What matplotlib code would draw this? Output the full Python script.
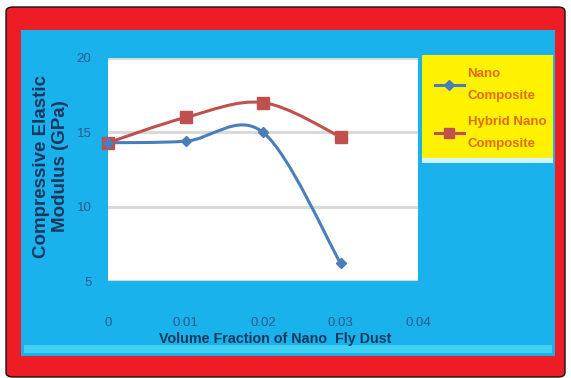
import matplotlib
matplotlib.use("Agg")
import matplotlib.pyplot as plt
from matplotlib.patches import Rectangle, FancyBboxPatch, PathPatch
from matplotlib.path import Path
from matplotlib.lines import Line2D

# ---- data ----
volume_fraction = [0.0, 0.01, 0.02, 0.03]
nano_composite = [14.3, 14.4, 15.0, 6.2]
hybrid_nano_composite = [14.3, 16.0, 17.0, 14.7]
series_labels = ["Nano\nComposite", "Hybrid Nano\nComposite"]
x_ticks = [0, 0.01, 0.02, 0.03, 0.04]
x_tick_labels = ["0", "0.01", "0.02", "0.03", "0.04"]
y_ticks = [5, 10, 15, 20]
y_tick_labels = ["5", "10", "15", "20"]

W, H = 571, 378
fig = plt.figure(figsize=(W / 100, H / 100), dpi=100)
fig.patch.set_facecolor("white")

FONT = "Liberation Sans"

def px(x0, y0, x1, y1):
    return (x0 / W, 1 - y1 / H, (x1 - x0) / W, (y1 - y0) / H)

# red outer frame with thin black border
l, b, w, h = px(6, 7, 565, 377)
fig.patches.append(FancyBboxPatch((l, b), w, h, boxstyle="round,pad=0,rounding_size=0.012",
                                  transform=fig.transFigure, facecolor="#EE1C24",
                                  edgecolor="#111111", linewidth=1.0, zorder=-3))
# blue inner panel
l, b, w, h = px(21, 30, 555, 356)
fig.patches.append(Rectangle((l, b), w, h, transform=fig.transFigure,
                             facecolor="#19B2EC", edgecolor="none", zorder=-2))
# lighter strip near bottom
l, b, w, h = px(24, 345, 552, 353)
fig.patches.append(Rectangle((l, b), w, h, transform=fig.transFigure,
                             facecolor="#3FD0F2", edgecolor="none", zorder=-1))
# yellow legend box
l, b, w, h = px(422, 55, 553, 158)
fig.patches.append(Rectangle((l, b), w, h, transform=fig.transFigure,
                             facecolor="#FFF200", edgecolor="none", zorder=-1))
l, b, w, h = px(422, 158, 553, 163)
fig.patches.append(Rectangle((l, b), w, h, transform=fig.transFigure,
                             facecolor="#CFF4FB", edgecolor="none", zorder=-1))

ax = fig.add_axes(px(108, 58, 418, 281))
ax.set_zorder(2)
ax.set_facecolor("white")
ax.set_xlim(0, 0.04)
ax.set_ylim(5, 20)
for s in ax.spines.values():
    s.set_visible(False)
ax.set_yticks(y_ticks)
ax.set_yticklabels(y_tick_labels)
ax.set_xticks(x_ticks)
ax.set_xticklabels(x_tick_labels)
ax.tick_params(axis="both", length=0, labelsize=9.5, labelcolor="#2A5A8E")
ax.tick_params(axis="x", pad=26)
ax.tick_params(axis="y", pad=12)
for t in ax.get_xticklabels() + ax.get_yticklabels():
    t.set_fontfamily(FONT)
ax.yaxis.grid(True, color="#D9D9D9", linewidth=2.2)
ax.set_axisbelow(True)

def smooth_path(xs, ys):
    pts = list(zip(xs, ys))
    n = len(pts)
    verts = [pts[0]]
    codes = [Path.MOVETO]
    for i in range(n - 1):
        p0 = pts[i - 1] if i > 0 else pts[i]
        p1 = pts[i]
        p2 = pts[i + 1]
        p3 = pts[i + 2] if i + 2 < n else pts[i + 1]
        c1 = (p1[0] + (p2[0] - p0[0]) / 6, p1[1] + (p2[1] - p0[1]) / 6)
        c2 = (p2[0] - (p3[0] - p1[0]) / 6, p2[1] - (p3[1] - p1[1]) / 6)
        verts += [c1, c2, p2]
        codes += [Path.CURVE4] * 3
    return Path(verts, codes)

blue = "#4A7EBB"
red = "#C0504D"
ax.add_patch(PathPatch(smooth_path(volume_fraction, nano_composite), facecolor="none",
                       edgecolor=blue, linewidth=2.2, zorder=3, clip_on=False))
ax.add_patch(PathPatch(smooth_path(volume_fraction, hybrid_nano_composite), facecolor="none",
                       edgecolor=red, linewidth=2.2, zorder=3, clip_on=False))
ax.plot(volume_fraction, nano_composite, ls="none", marker="D", ms=5.5, color=blue,
        zorder=5, clip_on=False)
ax.plot(volume_fraction, hybrid_nano_composite, ls="none", marker="s", ms=8, color=red,
        zorder=4, clip_on=False)

fig.text(51 / W, 1 - 166 / H, "Compressive Elastic\nModulus (GPa)", rotation=90,
         ha="center", va="center", fontsize=13.5, fontweight="bold", color="#17375E",
         family=FONT, linespacing=1.15)
fig.text(275 / W, 1 - 339 / H, "Volume Fraction of Nano  Fly Dust", ha="center",
         va="center", fontsize=10.3, fontweight="bold", color="#17375E", family=FONT)

handles = [Line2D([], [], color=blue, lw=2.2, marker="D", ms=5),
           Line2D([], [], color=red, lw=2.2, marker="s", ms=7)]
leg = fig.legend(handles, series_labels, loc="upper left",
                 bbox_to_anchor=(424 / W, 1 - 57 / H), frameon=False,
                 handlelength=2.2, handletextpad=0.3, labelspacing=1.0,
                 borderpad=0.3,
                 prop={"family": FONT, "size": 9.5, "weight": "bold"})
for t in leg.get_texts():
    t.set_color("#E46C0A")
    t.set_linespacing(2.2)
leg.set_zorder(6)

fig.savefig("out.png", dpi=100)
